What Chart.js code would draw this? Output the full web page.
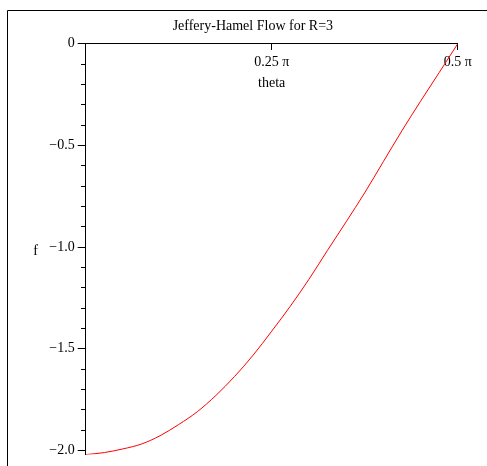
<!DOCTYPE html>
<html>
<head>
<meta charset="utf-8">
<script src="https://cdn.jsdelivr.net/npm/chart.js@4.4.1/dist/chart.umd.min.js"></script>
<style>
  html, body { margin: 0; padding: 0; background: #fff; }
  canvas { display: block; }
</style>
</head>
<body>
<canvas id="c" width="487" height="466"></canvas>
<script>
// Jeffery-Hamel solution f(theta) for R = 3, theta given in multiples of pi
const thetaOverPi = [0, 0.025, 0.05, 0.075, 0.1, 0.125, 0.15, 0.175, 0.2, 0.225,
                     0.25, 0.275, 0.3, 0.325, 0.35, 0.375, 0.4, 0.425, 0.45, 0.475, 0.5];
const fValues = [-2.021, -2.011, -1.993, -1.969, -1.928, -1.873, -1.810, -1.730, -1.637, -1.532,
                 -1.414, -1.291, -1.159, -1.016, -0.876, -0.733, -0.580, -0.428, -0.283, -0.142, 0];

const xTickValues = [0.25, 0.5];
const xTickLabels = ['0.25 π', '0.5 π'];
const yMajorTicks = [0, -0.5, -1.0, -1.5, -2.0];
const yTickLabels = ['0', '−0.5', '−1.0', '−1.5', '−2.0'];
const yMinorTicks = [-0.1, -0.2, -0.3, -0.4, -0.6, -0.7, -0.8, -0.9,
                     -1.1, -1.2, -1.3, -1.4, -1.6, -1.7, -1.8, -1.9];

const SERIF = 'Liberation Serif, Times New Roman, serif';

// white page with the plot frame along the left and top edges, plus the "f" axis label
const framePlugin = {
  id: 'frame',
  beforeDraw(chart) {
    const ctx = chart.ctx;
    ctx.save();
    ctx.fillStyle = '#fff';
    ctx.fillRect(0, 0, chart.width, chart.height);
    ctx.strokeStyle = '#000';
    ctx.lineWidth = 1;
    ctx.beginPath();
    ctx.moveTo(7.5, chart.height);
    ctx.lineTo(7.5, 10.5);
    ctx.lineTo(chart.width, 10.5);
    ctx.stroke();
    ctx.restore();
  },
  afterDraw(chart) {
    const ctx = chart.ctx;
    const a = chart.chartArea;
    ctx.save();
    ctx.fillStyle = '#000';
    ctx.font = '14px ' + SERIF;
    ctx.textAlign = 'center';
    ctx.textBaseline = 'middle';
    ctx.fillText('f', a.left - 50, (a.top + a.bottom) / 2 + 2);
    ctx.restore();
  }
};

const yMin = -2.021;

new Chart(document.getElementById('c'), {
  type: 'line',
  data: {
    datasets: [{
      data: thetaOverPi.map((t, i) => ({ x: t, y: fValues[i] })),
      borderColor: '#ff0000',
      borderWidth: 1,
      pointRadius: 0,
      cubicInterpolationMode: 'monotone',
      fill: false
    }]
  },
  options: {
    responsive: false,
    animation: false,
    devicePixelRatio: 1,
    layout: { padding: { left: 48, right: 29.3, top: 10, bottom: 10 } },
    plugins: {
      legend: { display: false },
      tooltip: { enabled: false },
      title: {
        display: true,
        text: 'Jeffery-Hamel Flow for R=3',
        color: '#000',
        font: { family: SERIF, size: 14, weight: 'normal' },
        padding: { top: 8, bottom: 9 }
      }
    },
    scales: {
      x: {
        type: 'linear',
        min: 0,
        max: 0.5,
        position: { y: 0 },
        afterBuildTicks: s => { s.ticks = xTickValues.map(v => ({ value: v })); },
        ticks: {
          callback: v => xTickLabels[xTickValues.indexOf(v)],
          color: '#000',
          font: { family: SERIF, size: 14 },
          padding: 4,
          maxRotation: 0,
          autoSkip: false
        },
        grid: { drawOnChartArea: false, tickLength: 6, color: '#000', tickColor: '#000' },
        border: { color: '#000', width: 1 },
        title: {
          display: true,
          text: 'theta',
          color: '#000',
          font: { family: SERIF, size: 14 },
          padding: { top: 0, bottom: 1 }
        }
      },
      y: {
        type: 'linear',
        min: yMin,
        max: 0,
        position: 'left',
        afterBuildTicks: s => { s.ticks = yMajorTicks.map(v => ({ value: v })); },
        afterFit: s => { s.width = 37.7; },
        ticks: {
          callback: v => yTickLabels[yMajorTicks.indexOf(v)],
          color: '#000',
          font: { family: SERIF, size: 14 },
          padding: 3,
          autoSkip: false
        },
        grid: { drawOnChartArea: false, tickLength: 8, color: '#000', tickColor: '#000' },
        border: { color: '#000', width: 1 }
      },
      yMinor: {
        type: 'linear',
        axis: 'y',
        min: yMin,
        max: 0,
        position: { x: 0 },
        afterBuildTicks: s => { s.ticks = yMinorTicks.map(v => ({ value: v })); },
        ticks: { display: false },
        grid: { drawOnChartArea: false, tickLength: 4, color: '#000', tickColor: '#000' },
        border: { color: '#000', width: 1 }
      }
    }
  },
  plugins: [framePlugin]
});
</script>
</body>
</html>
